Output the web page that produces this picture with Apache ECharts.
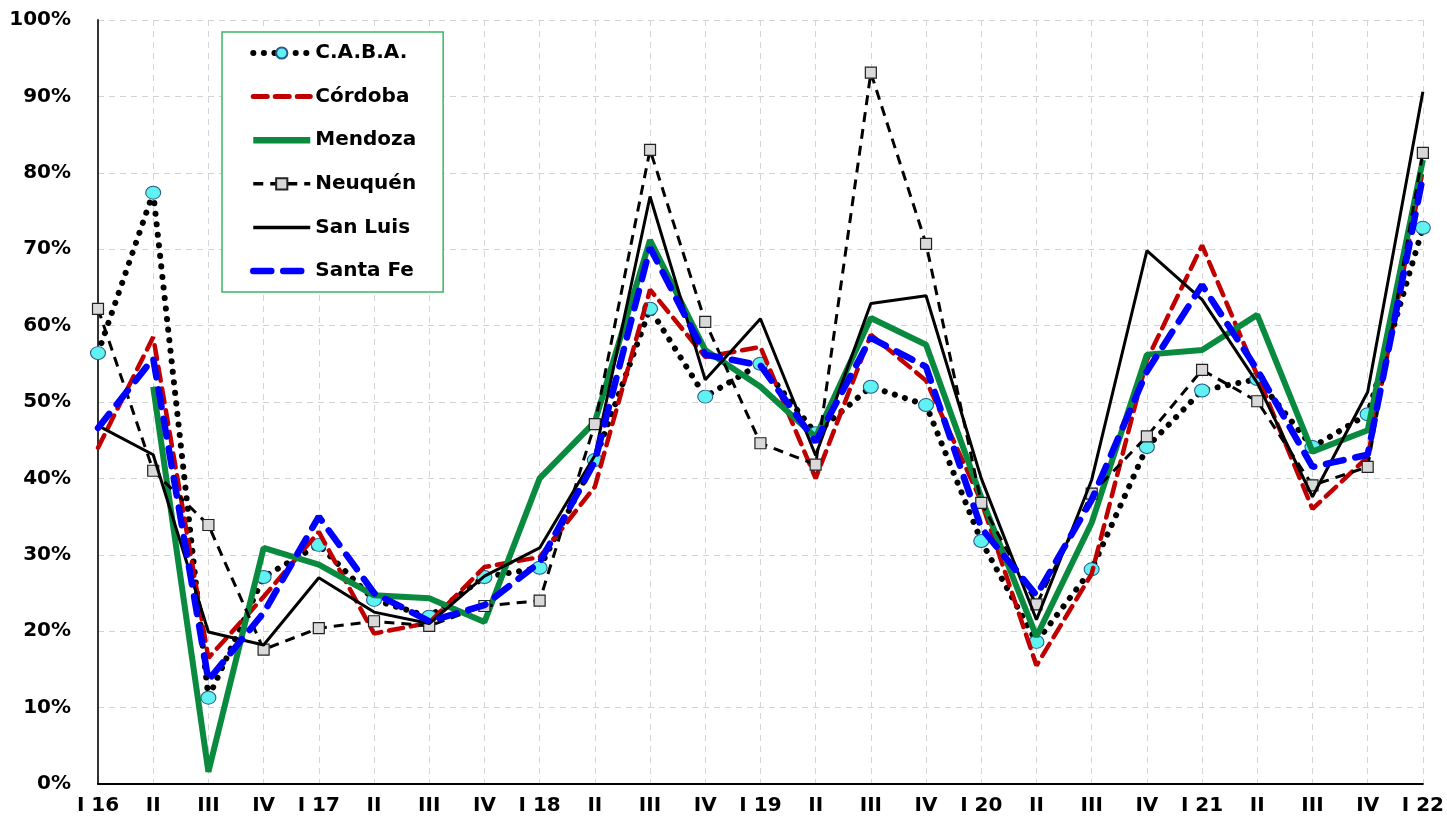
<!DOCTYPE html>
<html>
<head>
<meta charset="utf-8">
<script src="https://cdn.jsdelivr.net/npm/echarts@6/dist/echarts.min.js"></script>
<style>
  html, body { margin: 0; padding: 0; background: #fff; }
  #chart { width: 1447px; height: 827px; }
</style>
</head>
<body>
<div id="chart"></div>
<script>
const categories = ['I 16','II','III','IV','I 17','II','III','IV','I 18','II','III','IV','I 19','II','III','IV','I 20','II','III','IV','I 21','II','III','IV','I 22'];
const yTicks = [0, 10, 20, 30, 40, 50, 60, 70, 80, 90, 100];

const caba     = [56.4, 77.4, 11.3, 27.1, 31.3, 24.1, 21.9, 27.1, 28.3, 42.4, 62.2, 50.7, 55.0, 45.9, 52.0, 49.6, 31.8, 18.6, 28.1, 44.1, 51.5, 53.0, 44.1, 48.4, 72.8];
const cordoba  = [44.0, 58.5, 16.5, 24.5, 33.0, 19.7, 21.1, 28.4, 29.7, 38.9, 64.7, 55.9, 57.2, 40.0, 58.8, 52.8, 37.0, 15.5, 27.5, 55.5, 70.5, 53.5, 36.0, 42.8, 80.4];
const mendoza  = [null, 52.0, 1.6, 30.9, 28.7, 24.7, 24.3, 21.2, 40.0, 47.4, 71.2, 56.8, 52.0, 45.4, 61.0, 57.5, 37.5, 19.3, 34.2, 56.2, 56.8, 61.4, 43.5, 46.3, 81.7];
const neuquen  = [62.2, 41.0, 33.9, 17.6, 20.4, 21.3, 20.7, 23.3, 24.0, 47.1, 83.0, 60.5, 44.6, 41.8, 93.1, 70.7, 36.8, 23.5, 38.0, 45.5, 54.2, 50.1, 39.1, 41.5, 82.6];
const sanLuis  = [46.9, 43.1, 19.9, 18.2, 27.0, 22.5, 21.0, 27.2, 30.9, 43.0, 76.9, 52.9, 60.9, 43.0, 62.9, 63.9, 40.0, 21.5, 39.8, 69.8, 63.4, 52.5, 37.6, 51.3, 90.6];
const santaFe  = [46.6, 55.7, 13.6, 22.4, 35.0, 25.0, 21.3, 23.4, 29.0, 42.2, 70.2, 56.2, 54.8, 44.8, 58.4, 54.6, 33.5, 24.7, 37.2, 54.0, 65.3, 54.2, 41.5, 43.1, 79.5];

const FONT = 'DejaVu Sans';
const chart = echarts.init(document.getElementById('chart'), null, { renderer: 'canvas' });

const option = {
  animation: false,
  backgroundColor: '#fff',
  textStyle: { fontFamily: FONT },
  grid: { left: 98, right: 24, top: 20, bottom: 43, containLabel: false },
  legend: {
    orient: 'vertical',
    left: 222,
    top: 32,
    padding: [10, 27, 10, 28],
    itemWidth: 57,
    itemHeight: 14,
    itemGap: 21.6,
    backgroundColor: '#fff',
    borderColor: '#3cb564',
    borderWidth: 1.5,
    textStyle: { fontFamily: FONT, fontWeight: 'bold', fontSize: 20, color: '#000', lineHeight: 22 },
    data: [
      { name: 'C.A.B.A.', lineStyle: { width: 6 } },
      { name: 'Córdoba', lineStyle: { width: 5 }, itemStyle: { opacity: 0 } },
      { name: 'Mendoza', lineStyle: { width: 6.5 }, itemStyle: { opacity: 0 } },
      { name: 'Neuquén', lineStyle: { width: 3.5 } },
      { name: 'San Luis', lineStyle: { width: 3.5 }, itemStyle: { opacity: 0 } },
      { name: 'Santa Fe', lineStyle: { width: 6.5 }, itemStyle: { opacity: 0 } }
    ]
  },
  xAxis: {
    type: 'category',
    data: categories,
    boundaryGap: false,
    axisLine: { lineStyle: { color: '#000', width: 2 } },
    axisTick: { show: false },
    axisLabel: { interval: 0, margin: 12, fontFamily: FONT, fontWeight: 'bold', fontSize: 20, color: '#000' },
    splitLine: { show: true, lineStyle: { color: '#d3d6d6', type: [6, 5], width: 1 } }
  },
  yAxis: {
    type: 'value',
    min: yTicks[0],
    max: yTicks[yTicks.length - 1],
    interval: 10,
    axisLine: { show: true, lineStyle: { color: '#333', width: 2 } },
    axisTick: { show: false },
    axisLabel: { margin: 27, fontFamily: FONT, fontWeight: 'bold', fontSize: 20, color: '#000', formatter: '{value}%' },
    splitLine: { show: true, lineStyle: { color: '#cfd3d3', type: [6, 5], width: 1 } }
  },
  series: [
    {
      name: 'C.A.B.A.', type: 'line', data: caba,
      symbol: 'circle', symbolSize: [15, 13], showSymbol: true,
      itemStyle: { color: '#5ff2f0', borderColor: '#2a5a8c', borderWidth: 1 },
      lineStyle: { color: '#000', width: 6, type: [0.1, 10.5], cap: 'round' },
      z: 2
    },
    {
      name: 'Córdoba', type: 'line', data: cordoba,
      symbol: 'none',
      itemStyle: { color: '#c00000' },
      lineStyle: { color: '#c00000', width: 4.5, type: [14, 8], cap: 'round' },
      z: 3
    },
    {
      name: 'Mendoza', type: 'line', data: mendoza,
      symbol: 'none', connectNulls: false,
      itemStyle: { color: '#0a8a3f' },
      lineStyle: { color: '#0a8a3f', width: 6 },
      z: 4
    },
    {
      name: 'Neuquén', type: 'line', data: neuquen,
      symbol: 'rect', symbolSize: 11,
      itemStyle: { color: '#d9d9d9', borderColor: '#222', borderWidth: 1.2 },
      lineStyle: { color: '#000', width: 3, type: [10, 7] },
      z: 5
    },
    {
      name: 'San Luis', type: 'line', data: sanLuis,
      symbol: 'none',
      itemStyle: { color: '#000' },
      lineStyle: { color: '#000', width: 3 },
      z: 6
    },
    {
      name: 'Santa Fe', type: 'line', data: santaFe,
      symbol: 'none',
      itemStyle: { color: '#0000ff' },
      lineStyle: { color: '#0000ff', width: 6.5, type: [18, 12], cap: 'round' },
      z: 7
    }
  ]
};
chart.setOption(option);
</script>
</body>
</html>
